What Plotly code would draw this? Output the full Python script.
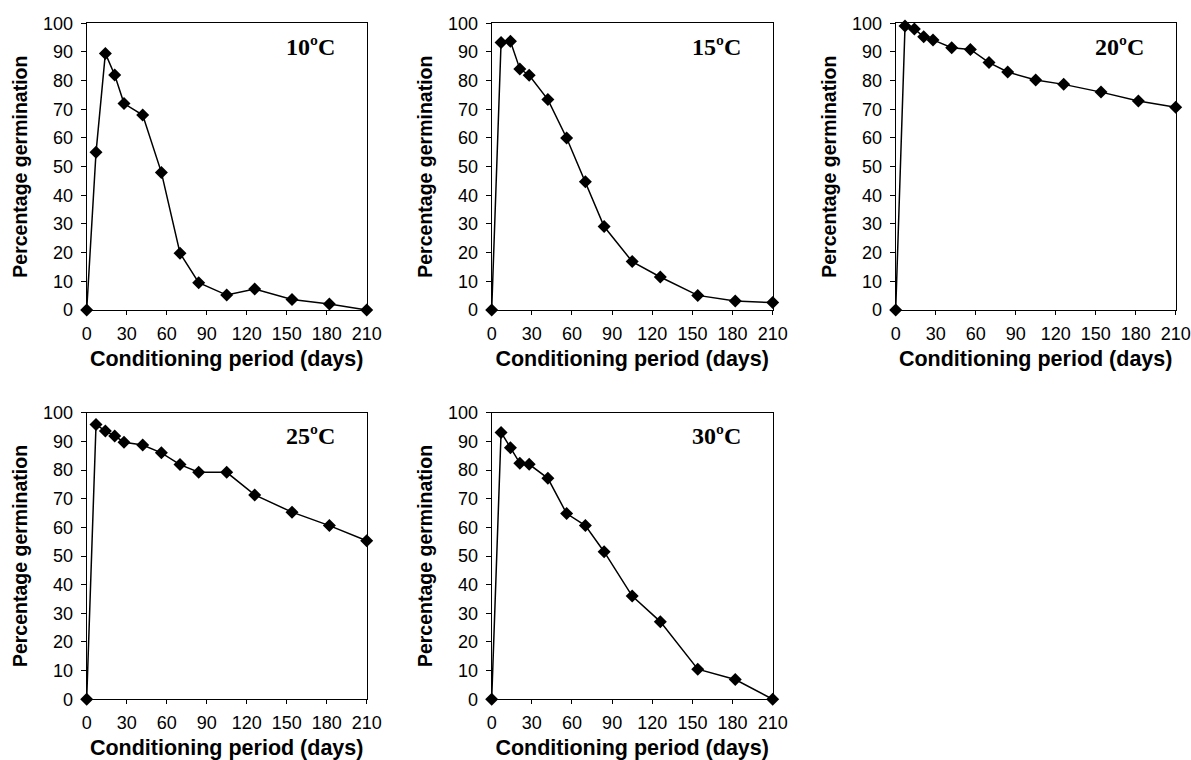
import plotly.graph_objects as go

# Conditioning period (days) shared by all temperature series
days = [0, 7, 14, 21, 28, 42, 56, 70, 84, 105, 126, 154, 182, 210]

# Percentage germination at each conditioning temperature
germ_10 = [0, 55, 89.5, 82, 72, 68, 48, 19.8, 9.5, 5.2, 7.3, 3.7, 2.1, 0]
germ_15 = [0, 93.3, 93.7, 84.1, 81.9, 73.4, 60, 44.7, 29.1, 16.9, 11.5, 5.1, 3.1, 2.6]
germ_20 = [0, 99.1, 98, 95.3, 94.2, 91.5, 90.9, 86.3, 83, 80.2, 78.7, 76, 72.9, 70.7]
germ_25 = [0, 95.9, 93.6, 91.9, 89.7, 88.7, 86, 81.9, 79.2, 79.2, 71.3, 65.3, 60.6, 55.3]
germ_30 = [0, 93.1, 87.8, 82.4, 82, 77.1, 64.8, 60.6, 51.5, 36, 27.1, 10.5, 6.9, 0]

panel_labels = ["10ºC", "15ºC", "20ºC", "25ºC", "30ºC"]
series = [germ_10, germ_15, germ_20, germ_25, germ_30]

x_ticks = [0, 30, 60, 90, 120, 150, 180, 210]
y_ticks = [0, 10, 20, 30, 40, 50, 60, 70, 80, 90, 100]

W, H = 1191, 760
# panel plot areas in pixels: (left, right, top, bottom)
boxes = [
    (86.7, 366.7, 23.3, 310.0),
    (491.7, 772.7, 23.3, 310.0),
    (895.7, 1175.7, 23.3, 310.0),
    (86.7, 366.7, 412.7, 699.3),
    (491.7, 772.7, 412.7, 699.3),
]

fig = go.Figure()
layout = dict(
    width=W, height=H,
    margin=dict(l=0, r=0, t=0, b=0),
    paper_bgcolor="white", plot_bgcolor="white",
    showlegend=False,
    font=dict(family="Liberation Sans, Arial, sans-serif", color="black"),
    annotations=[],
)

n_panels = len(series)
for i, (vals, label, box) in enumerate(zip(series, panel_labels, boxes)):
    n = "" if i == 0 else str(i + 1)
    xa, ya = "x" + n, "y" + n
    fig.add_trace(go.Scatter(
        x=days, y=vals, xaxis=xa, yaxis=ya, mode="lines+markers",
        line=dict(color="black", width=1.5),
        marker=dict(symbol="diamond", size=10, color="black"),
        cliponaxis=False,
    ))
    l, r, t, b = box
    layout["xaxis" + n] = dict(
        domain=[l / W, r / W], anchor=ya, range=[0, 210],
        tickvals=x_ticks, ticks="outside", ticklen=4, tickcolor="black",
        ticklabelstandoff=3,
        showline=True, linecolor="black", linewidth=1, mirror=True,
        showgrid=False, zeroline=False, automargin=False,
        tickfont=dict(size=18),
        title=dict(text="<b>Conditioning period (days)</b>", font=dict(size=21.5), standoff=8),
    )
    # companion axis carrying the inward half of the crossing x ticks
    k = str(n_panels + i + 1)
    layout["xaxis" + k] = dict(
        domain=[l / W, r / W], anchor=ya, overlaying=xa, range=[0, 210],
        tickvals=x_ticks, ticks="inside", ticklen=4, tickcolor="black",
        showticklabels=False, showline=False, showgrid=False, zeroline=False,
        automargin=False,
    )
    layout["yaxis" + n] = dict(
        domain=[(H - b) / H, (H - t) / H], anchor=xa, range=[0, 100],
        tickvals=y_ticks, ticks="outside", ticklen=5, tickcolor="black",
        ticklabelstandoff=4,
        showline=True, linecolor="black", linewidth=1, mirror=True,
        showgrid=False, zeroline=False, automargin=False,
        tickfont=dict(size=18),
        title=dict(text="<b>Percentage germination</b>", font=dict(size=19.5), standoff=10),
    )
    layout["annotations"].append(dict(
        text="<b>" + label + "</b>", xref=xa + " domain", yref=ya + " domain",
        x=0.893, y=0.917, xanchor="right", yanchor="middle", showarrow=False,
        font=dict(family="Liberation Serif, Times New Roman, serif", size=24, color="black"),
    ))

fig.update_layout(**layout)
fig.write_html("out.html")
